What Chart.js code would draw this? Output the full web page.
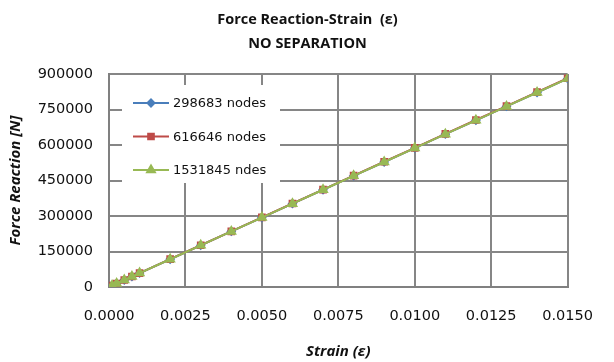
<!DOCTYPE html>
<html>
<head>
<meta charset="utf-8">
<script src="https://cdn.jsdelivr.net/npm/chart.js@4.4.1/dist/chart.umd.min.js"></script>
<style>
  html, body { margin: 0; padding: 0; background: #fff; }
  #wrap { width: 614px; height: 362px; }
</style>
</head>
<body>
<div id="wrap"><canvas id="chart" width="614" height="362"></canvas></div>
<script>
// strain values (x)
const strain = [0.0001, 0.00025, 0.0005, 0.00075, 0.001, 0.002, 0.003, 0.004, 0.005,
                0.006, 0.007, 0.008, 0.009, 0.010, 0.011, 0.012, 0.013, 0.014, 0.015];

// force reaction per mesh (y)
const force298683 = [5900, 14700, 29350, 44000, 58650, 117300, 176000, 234700, 293400,
                     352100, 410800, 469500, 528200, 586900, 645600, 704300, 763000, 821700, 880400];
const force616646 = [6000, 14800, 29500, 44200, 58900, 117700, 176500, 235300, 294100,
                     352900, 411700, 470500, 529300, 588100, 646900, 705700, 764500, 823300, 882000];
const force1531845 = [5900, 14700, 29400, 44000, 58700, 117400, 176100, 234800, 293500,
                      352200, 410900, 469600, 528300, 587000, 645700, 704400, 763100, 821800, 880500];

const seriesNames = ['298683 nodes', '616646 nodes', '1531845 ndes'];
const xTicks = { min: 0, max: 0.015, step: 0.0025 };
const yTicks = { min: 0, max: 900000, step: 150000 };

function pts(ys) {
  return strain.map((x, i) => ({ x: x, y: ys[i] }));
}

// legend drawn inside the plot area, like the original
const insideLegend = {
  id: 'insideLegend',
  afterDatasetsDraw(chart) {
    const ctx = chart.ctx;
    const area = chart.chartArea;
    const bx = area.left + 13, by = area.top + 11;
    ctx.save();
    ctx.fillStyle = '#fff';
    ctx.fillRect(bx, by, 158, 98);
    chart.data.datasets.forEach((ds, i) => {
      const y = by + 18 + i * 33.5;
      ctx.strokeStyle = ds.borderColor;
      ctx.lineWidth = 2;
      ctx.beginPath();
      ctx.moveTo(bx + 11, y);
      ctx.lineTo(bx + 47, y);
      ctx.stroke();
      ctx.fillStyle = ds.pointBackgroundColor;
      ctx.strokeStyle = ds.pointBorderColor;
      Chart.helpers.drawPoint(ctx, {
        pointStyle: ds.pointStyle,
        radius: ds.pointRadius,
        borderWidth: 1,
        rotation: 0
      }, bx + 29, y);
      ctx.fillStyle = '#111';
      ctx.font = '13px "DejaVu Sans"';
      ctx.textBaseline = 'middle';
      ctx.textAlign = 'left';
      ctx.fillText(ds.label, bx + 51, y + 1);
    });
    ctx.restore();
  }
};

new Chart(document.getElementById('chart'), {
  type: 'line',
  data: {
    datasets: [
      {
        label: seriesNames[0],
        data: pts(force298683),
        borderColor: '#4a7ebb',
        pointBackgroundColor: '#4a7ebb',
        pointBorderColor: '#4a7ebb',
        pointStyle: 'rectRot',
        pointRadius: 3.5,
        borderWidth: 2,
        order: 2
      },
      {
        label: seriesNames[1],
        data: pts(force616646),
        borderColor: '#be4b48',
        pointBackgroundColor: '#be4b48',
        pointBorderColor: '#be4b48',
        pointStyle: 'rect',
        pointRadius: 4,
        borderWidth: 2,
        order: 1
      },
      {
        label: seriesNames[2],
        data: pts(force1531845),
        borderColor: '#98b954',
        pointBackgroundColor: '#98b954',
        pointBorderColor: '#98b954',
        pointStyle: 'triangle',
        pointRadius: 4.5,
        borderWidth: 2,
        order: 0
      }
    ]
  },
  options: {
    responsive: false,
    animation: false,
    layout: { padding: { left: 4, right: 3, top: 0, bottom: 0 } },
    plugins: {
      legend: { display: false },
      tooltip: { enabled: false },
      title: {
        display: true,
        text: ['Force Reaction-Strain  (\u03b5)', 'NO SEPARATION'],
        color: '#111',
        font: { family: '"Open Sans"', size: 14.5, weight: 'bold', lineHeight: 24 / 14.5 },
        padding: { top: 8, bottom: 18 }
      }
    },
    scales: {
      x: {
        type: 'linear',
        min: xTicks.min,
        max: xTicks.max,
        afterFit: (s) => { s.height = 75; },
        ticks: {
          stepSize: xTicks.step,
          padding: 21,
          color: '#111',
          font: { family: '"DejaVu Sans"', size: 14.5 },
          callback: (v) => v.toFixed(4)
        },
        grid: { color: '#868686', lineWidth: 2, drawTicks: false },
        border: { color: '#808080', width: 2 },
        title: {
          display: true,
          text: 'Strain (\u03b5)',
          color: '#111',
          font: { family: '"Open Sans"', size: 15, weight: 'bold', style: 'italic' },
          padding: { top: 0, bottom: 1 }
        }
      },
      y: {
        min: yTicks.min,
        max: yTicks.max,
        afterFit: (s) => { s.width = 105; },
        ticks: {
          stepSize: yTicks.step,
          padding: 16,
          color: '#111',
          font: { family: '"DejaVu Sans"', size: 14.5 },
          callback: (v) => String(v)
        },
        grid: { color: '#868686', lineWidth: 2, drawTicks: false },
        border: { color: '#808080', width: 2 },
        title: {
          display: true,
          text: 'Force Reaction [N]',
          color: '#111',
          font: { family: '"Open Sans"', size: 15, weight: 'bold', style: 'italic' },
          padding: { top: 3, bottom: 0 }
        }
      }
    }
  },
  plugins: [insideLegend]
});
</script>
</body>
</html>
